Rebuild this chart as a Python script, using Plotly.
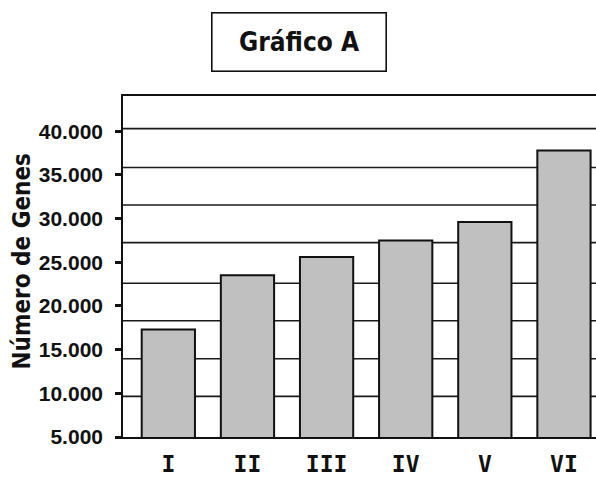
import plotly.graph_objects as go

# ---- data ----
categories = ["I", "II", "III", "IV", "V", "VI"]
genes = [17300, 23500, 25600, 27500, 29600, 37800]
y_tick_values = [5000, 10000, 15000, 20000, 25000, 30000, 35000, 40000]
y_tick_labels = ["5.000", "10.000", "15.000", "20.000", "25.000", "30.000", "35.000", "40.000"]
title_text = "Gráfico A"
y_title = "Número de Genes"

# ---- style (horizontal rules of the original, which do not follow the ticks) ----
grid_levels = [9650, 13950, 18300, 22600, 27250, 31550, 35850, 40300]
y_range = [5000, 44030]

fig = go.Figure()
fig.add_trace(go.Bar(
    x=categories, y=genes,
    width=0.673,
    marker=dict(color="#c0c0c0", line=dict(color="#111111", width=2)),
))

shapes = [
    dict(type="line", xref="paper", x0=0, x1=1, yref="y", y0=g, y1=g,
         layer="below", line=dict(color="#1a1a1a", width=1.6))
    for g in grid_levels
]

fig.update_layout(
    width=596, height=477,
    margin=dict(l=123, r=0, t=96, b=40),
    plot_bgcolor="white", paper_bgcolor="white",
    showlegend=False,
    shapes=shapes,
    xaxis=dict(
        type="category", range=[-0.573, 5.405], automargin=False,
        showgrid=False, showline=True, linecolor="#111111", linewidth=2,
        mirror=True, ticks="",
        tickfont=dict(family="DejaVu Sans Mono", size=23, color="#111111", weight="bold"),
        ticklabelstandoff=5,
    ),
    yaxis=dict(
        range=y_range, automargin=False,
        tickvals=y_tick_values, ticktext=y_tick_labels,
        showgrid=False, zeroline=False,
        showline=True, linecolor="#111111", linewidth=1.6,
        ticks="outside", ticklen=6, tickwidth=2.5, tickcolor="#111111",
        ticklabelstandoff=8,
        tickfont=dict(family="Liberation Sans, Arial", size=21, color="#111111", weight="bold"),
    ),
    annotations=[
        dict(
            text=title_text, xref="paper", yref="paper",
            x=(299.3 - 123) / 473.0, y=1.0 + (96 - 41.7) / 341.0,
            xanchor="center", yanchor="middle", showarrow=False,
            font=dict(family="DejaVu Sans Condensed, DejaVu Sans", size=26, color="#111111", weight="bold"),
            bordercolor="#111111", borderwidth=1.6, borderpad=0,
            width=173, height=57, bgcolor="white",
        ),
        dict(
            text=y_title, xref="paper", yref="paper",
            x=(21 - 123) / 473.0, y=(437 - 261.5) / 341.0,
            xanchor="center", yanchor="middle", showarrow=False, textangle=-90,
            font=dict(family="DejaVu Sans Condensed, DejaVu Sans", size=24, color="#111111", weight="bold"),
        ),
    ],
)

fig.write_html(
    "out.html",
    config={"displayModeBar": False},
    post_script="document.body.style.margin='0';document.body.style.overflow='hidden';",
)
